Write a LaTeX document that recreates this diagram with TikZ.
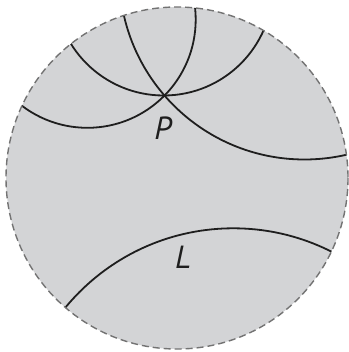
\documentclass[tikz,border=0pt]{standalone}
\usepackage{fontspec}
\setmainfont{PT Sans}
\definecolor{diskfill}{RGB}{211,212,214}
\definecolor{rim}{RGB}{115,115,115}
\definecolor{geo}{RGB}{30,30,30}
\begin{document}
\begin{tikzpicture}[x=1pt,y=-1pt,
  geoline/.style={draw=geo,line width=1.8pt},
  rimline/.style={draw=rim,line width=1.4pt,dash pattern=on 7pt off 4pt},
  lbl/.style={font=\fontsize{32}{36}\selectfont\itshape, text=geo, inner sep=0pt}]
\useasboundingbox (0,0) rectangle (348,352);
\fill[diskfill] (177,178) circle[radius=171];
\begin{scope}
  \clip (177,178) circle[radius=171];
  \draw[geoline] (163.7,-13.6) circle[radius=109.1];
  \draw[geoline] (304.5,-25.7) circle[radius=185.2];
  \draw[geoline] (87.4,19.5) circle[radius=108.3];
  \draw[geoline] (233.3,445.8) circle[radius=217.5];
\end{scope}
\draw[rimline] (177,178) circle[radius=171];
\node[lbl] (P) at (163,128) {P};
\node[lbl] (L) at (183,257) {L};
\end{tikzpicture}
\end{document}
